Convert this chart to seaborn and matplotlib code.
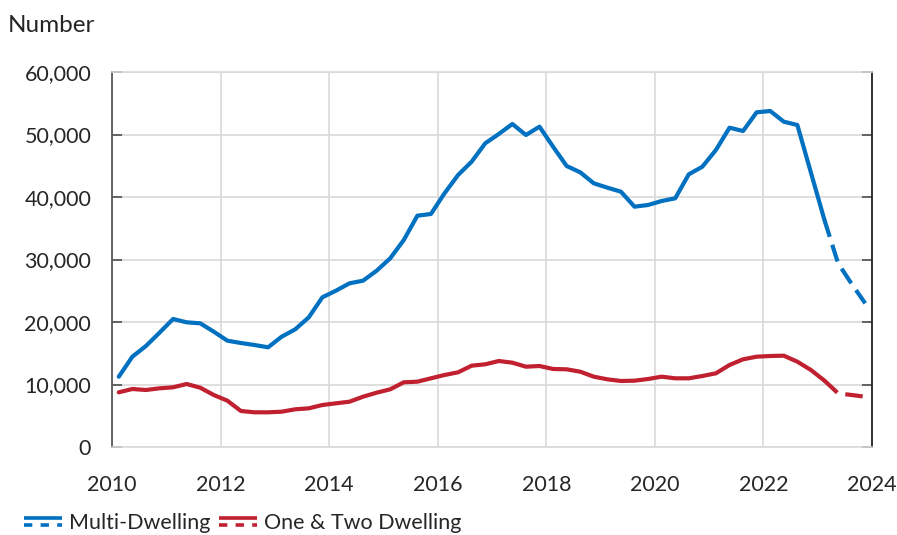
"""
Quarterly housing starts: multi-dwelling vs one & two dwelling, 2010-2024.
Solid = actual, dashed = forecast.
"""
import numpy as np
import pandas as pd
import matplotlib
matplotlib.use('Agg')
import matplotlib.pyplot as plt
from matplotlib import ticker
from matplotlib.lines import Line2D
from matplotlib.legend_handler import HandlerBase
import seaborn as sns

# Data
quarters = pd.period_range('2010Q1', '2023Q4', freq='Q')
multi_dwelling = [
    11250, 14450, 16160, 18290, 20480, 19950, 19790, 18450,
    17010, 16640, 16320, 15950, 17650, 18830, 20750, 23950,
    25010, 26190, 26610, 28210, 30190, 33120, 37010, 37280,
    40590, 43520, 45650, 48590, 50080, 51680, 49920, 51250,
    48050, 44960, 43950, 42190, 41490, 40850, 38450, 38720,
    39360, 39790, 43630, 44850, 47520, 51090, 50560, 53550,
    53760, 52050, 51520, 43900, 36300, 29400, 26100, 22990,
]
one_two_dwelling = [
    8750, 9280, 9120, 9390, 9550, 10080, 9490, 8320,
    7410, 5760, 5550, 5550, 5650, 6030, 6190, 6720,
    6990, 7250, 8050, 8690, 9230, 10350, 10450, 10990,
    11520, 11950, 13010, 13230, 13760, 13490, 12850, 12960,
    12480, 12430, 12050, 11250, 10830, 10560, 10610, 10880,
    11250, 10990, 10990, 11360, 11790, 13120, 14030, 14450,
    14560, 14610, 13650, 12320, 10610, 8590, 8320, 8050,
]
series_names = ['Multi-Dwelling', 'One & Two Dwelling']
last_actual = pd.Period('2023Q1', freq='Q')
colors = {'Multi-Dwelling': '#0070C0', 'One & Two Dwelling': '#C0202F'}

# plot quarters at mid-quarter on a decimal-year axis
x_pos = np.array([q.year + (q.quarter - 1) * 0.25 + 0.125 for q in quarters])


def build_frame():
    rows = []
    for name, values in zip(series_names, [multi_dwelling, one_two_dwelling]):
        for q, x, v in zip(quarters, x_pos, values):
            if q <= last_actual:
                rows.append((name, 'Actual', x, v))
            if q >= last_actual:  # share the joining point
                rows.append((name, 'Forecast', x, v))
    return pd.DataFrame(rows, columns=['Series', 'Kind', 'Year', 'Number'])


class StackedLineHandler(HandlerBase):
    """Legend key: solid line on top, dashed line below."""

    def create_artists(self, legend, orig_handle, xdescent, ydescent,
                       width, height, fontsize, trans):
        color = orig_handle.get_color()
        xs = [-xdescent, -xdescent + width]
        mid = -ydescent + height / 2
        solid = Line2D(xs, [mid + 2.7] * 2, color=color, lw=2.6,
                       solid_capstyle='butt', transform=trans)
        dashed = Line2D(xs, [mid - 2.7] * 2, color=color, lw=2.6,
                        dashes=(2.3, 2.3), dash_capstyle='butt',
                        transform=trans)
        return [solid, dashed]


def main():
    data = build_frame()
    sns.set_style('white')
    plt.rcParams['font.family'] = ['Lato', 'DejaVu Sans']

    fig = plt.figure(figsize=(8.97, 5.35), dpi=100)
    ax = fig.add_axes([112 / 897, 1 - 447 / 535, 760 / 897, 375 / 535])

    sns.lineplot(
        data=data, x='Year', y='Number', hue='Series', style='Kind',
        hue_order=series_names, palette=colors,
        dashes={'Actual': '', 'Forecast': (4.2, 2.0)},
        lw=3, sort=True, estimator=None, legend=False, ax=ax,
    )

    ax.set(xlim=(2010, 2024), ylim=(0, 60000), xlabel='', ylabel='')
    ax.set_xticks(np.arange(2010, 2025, 2))
    ax.set_yticks(np.arange(0, 60001, 10000))
    ax.yaxis.set_major_formatter(ticker.StrMethodFormatter('{x:,.0f}'))
    ax.grid(True, color='#D9D9D9', lw=1.2)
    ax.set_axisbelow(True)

    for side in ['top', 'bottom']:
        ax.spines[side].set_color('#D9D9D9')
        ax.spines[side].set_linewidth(1.2)
    ax.spines['left'].set_color('#595959')
    ax.spines['right'].set_color('#222222')
    for side in ['left', 'right']:
        ax.spines[side].set_linewidth(1.3)

    ax.tick_params(axis='y', left=True, right=True, direction='in',
                   length=7, width=1.3, color='#595959',
                   labelsize=15.5, pad=15)
    ax.tick_params(axis='x', length=0, labelsize=15.5, pad=20)

    fig.text(8 / 897, 1 - 32 / 535, 'Number', fontsize=17.5,
             ha='left', va='baseline')

    handles = [Line2D([], [], color=colors[n]) for n in series_names]
    fig.legend(handles, series_names, loc='center left',
               bbox_to_anchor=(24 / 897, 1 - 523 / 535),
               ncol=2, frameon=False, fontsize=15.5,
               handlelength=1.75, handletextpad=0.35, columnspacing=0.4,
               borderpad=0, borderaxespad=0,
               handler_map={Line2D: StackedLineHandler()})

    fig.savefig('out.png', dpi=100)


if __name__ == '__main__':
    main()
